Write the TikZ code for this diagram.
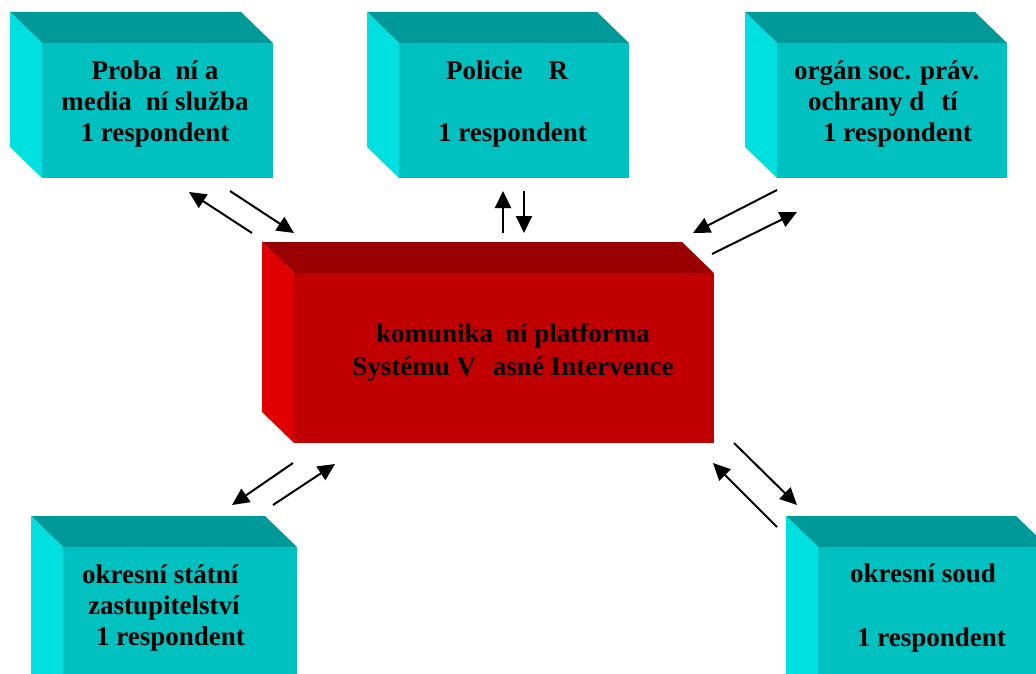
\documentclass[tikz,border=0pt]{standalone}
\usepackage{fontspec}
\setmainfont{Liberation Serif}
\usetikzlibrary{arrows.meta}
\definecolor{cyanF}{HTML}{00C0C0}
\definecolor{cyanT}{HTML}{009999}
\definecolor{cyanS}{HTML}{00E0E0}
\definecolor{redF}{HTML}{C00000}
\definecolor{redT}{HTML}{990000}
\definecolor{redS}{HTML}{E00000}
\newcommand{\cubebox}[7]{%
  \fill[#6] (#1-32,#2-31) -- (#1+#3-32,#2-31) -- (#1+#3,#2) -- (#1,#2) -- cycle;
  \fill[#7] (#1-32,#2-31) -- (#1,#2) -- (#1,#2+#4) -- (#1-32,#2+#4-31) -- cycle;
  \fill[#5] (#1,#2) rectangle (#1+#3,#2+#4);
}
\newcommand{\boxfont}{\fontsize{27}{31}\selectfont\bfseries}
\newcommand{\redfont}{\fontsize{27}{33}\selectfont\bfseries}
\tikzset{
  lbl/.style={inner sep=0pt, font=\boxfont},
  arr/.style={line width=2pt, -{Triangle[length=17pt,width=16pt]}}
}
\begin{document}
\begin{tikzpicture}[x=1pt,y=-1pt]
\useasboundingbox (0,0) rectangle (1036,674);
\clip (0,0) rectangle (1036,674);
% boxes
\cubebox{42}{43}{231}{135}{cyanF}{cyanT}{cyanS}
\cubebox{399}{43}{230}{135}{cyanF}{cyanT}{cyanS}
\cubebox{777}{43}{230}{135}{cyanF}{cyanT}{cyanS}
\cubebox{63}{547}{234}{160}{cyanF}{cyanT}{cyanS}
\cubebox{818}{547}{230}{160}{cyanF}{cyanT}{cyanS}
\cubebox{294}{273}{420}{170}{redF}{redT}{redS}
% labels
\node[lbl, anchor=base] (prob) at (155,80)
  {\begin{tabular}[t]{@{}c@{}}Proba\hspace{14pt}ní a\\ media\hspace{14pt}ní služba\\ 1 respondent\end{tabular}};
\node[lbl, anchor=base west] (pol) at (438,80)
  {\begin{tabular}[t]{@{}l@{}}\hspace*{8pt}Policie\hspace{26pt}R\\ \\ 1 respondent\end{tabular}};
\node[lbl, anchor=base west] (org) at (794,80)
  {\begin{tabular}[t]{@{}l@{}}orgán soc. práv.\\ \hspace*{14pt}ochrany d\hspace{17pt}tí\\ \hspace*{29pt}1 respondent\end{tabular}};
\node[lbl, anchor=base west] (zast) at (82,583)
  {\begin{tabular}[t]{@{}l@{}}okresní státní\\ \hspace*{6pt}zastupitelství\\ \hspace*{14pt}1 respondent\end{tabular}};
\node[lbl, anchor=base west, font=\fontsize{27}{32}\selectfont\bfseries] (soud) at (850,582)
  {\begin{tabular}[t]{@{}l@{}}okresní soud\\ \\ \hspace*{7pt}1 respondent\end{tabular}};
\node[lbl, anchor=base, font=\redfont] (svi) at (513,342)
  {\begin{tabular}[t]{@{}c@{}}komunika\hspace{12pt}ní platforma\\ Systému V\hspace{17pt}asné Intervence\end{tabular}};
% arrow end points
\coordinate (a1s) at (252,233); \coordinate (a1e) at (189,192);
\coordinate (a2s) at (230,191); \coordinate (a2e) at (294,233);
\coordinate (b1s) at (503,233); \coordinate (b1e) at (503,191);
\coordinate (b2s) at (524,191); \coordinate (b2e) at (524,233);
\coordinate (c1s) at (777,190); \coordinate (c1e) at (693,233);
\coordinate (c2s) at (712,254); \coordinate (c2e) at (797,212);
\coordinate (d1s) at (293,463); \coordinate (d1e) at (232,505);
\coordinate (d2s) at (273,505); \coordinate (d2e) at (335,464);
\coordinate (e1s) at (734,443); \coordinate (e1e) at (797,505);
\coordinate (e2s) at (777,527); \coordinate (e2e) at (713,463);
\draw[arr] (a1s) -- (a1e);
\draw[arr] (a2s) -- (a2e);
\draw[arr] (b1s) -- (b1e);
\draw[arr] (b2s) -- (b2e);
\draw[arr] (c1s) -- (c1e);
\draw[arr] (c2s) -- (c2e);
\draw[arr] (d1s) -- (d1e);
\draw[arr] (d2s) -- (d2e);
\draw[arr] (e1s) -- (e1e);
\draw[arr] (e2s) -- (e2e);
\end{tikzpicture}
\end{document}
